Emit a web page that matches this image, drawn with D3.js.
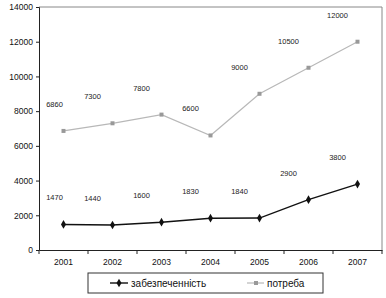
<!DOCTYPE html>
<html>
<head>
<meta charset="utf-8">
<script src="https://cdn.jsdelivr.net/npm/d3@7"></script>
<style>
  body { margin: 0; background: #fff; }
  svg { display: block; font-family: Arial, "Liberation Sans", sans-serif; }
</style>
</head>
<body>
<div id="chart"></div>
<script>
// chart data
var years = ['2001', '2002', '2003', '2004', '2005', '2006', '2007'];
var supply = [1470, 1440, 1600, 1830, 1840, 2900, 3800];   // забезпеченність
var demand = [6860, 7300, 7800, 6600, 9000, 10500, 12000]; // потреба
var yTicks = [0, 2000, 4000, 6000, 8000, 10000, 12000, 14000];
var seriesNames = ['забезпеченність', 'потреба'];

var width = 386, height = 298;
var margin = {top: 7, right: 4, bottom: 48, left: 39};
var plotW = width - margin.left - margin.right;
var plotH = height - margin.top - margin.bottom;

var svg = d3.select('#chart').append('svg')
  .attr('width', width)
  .attr('height', height);

var g = svg.append('g')
  .attr('transform', 'translate(' + margin.left + ',' + margin.top + ')');

var x = d3.scaleBand().domain(years).range([0, plotW]);
var y = d3.scaleLinear().domain([0, 14000]).range([plotH, 0]);

// plot frame (top + right)
g.append('path')
  .attr('d', 'M0,0H' + plotW + 'V' + plotH)
  .attr('fill', 'none')
  .attr('stroke', '#888')
  .attr('stroke-width', 1);

// y axis
var yAxis = g.append('g')
  .call(d3.axisLeft(y).tickValues(yTicks).tickSize(3).tickPadding(3).tickFormat(d3.format('d')));
yAxis.select('.domain').attr('stroke', '#222');
yAxis.selectAll('line').attr('stroke', '#222');
yAxis.selectAll('text').attr('font-size', 8.5).attr('fill', '#111');

// x axis, ticks on category boundaries
var xAxis = g.append('g')
  .attr('transform', 'translate(0,' + plotH + ')')
  .call(d3.axisBottom(x).tickSize(0).tickPadding(9));
xAxis.select('.domain').attr('stroke', '#222');
xAxis.selectAll('text').attr('font-size', 8.5).attr('fill', '#111');
xAxis.selectAll('.bound')
  .data(years.map(function (d) { return x(d); }).concat([plotW]))
  .enter().append('line')
  .attr('x1', function (d) { return d; })
  .attr('x2', function (d) { return d; })
  .attr('y1', 0).attr('y2', 4)
  .attr('stroke', '#222');

var cx = function (d, i) { return x(years[i]) + x.bandwidth() / 2; };
var line = d3.line()
  .x(function (d, i) { return x(years[i]) + x.bandwidth() / 2; })
  .y(function (d) { return y(d); });

// потреба (grey, squares)
g.append('path')
  .datum(demand)
  .attr('d', line)
  .attr('fill', 'none')
  .attr('stroke', '#b8b8b8')
  .attr('stroke-width', 1.2);
g.selectAll('.dm')
  .data(demand)
  .enter().append('rect')
  .attr('x', function (d, i) { return cx(d, i) - 2; })
  .attr('y', function (d) { return y(d) - 2; })
  .attr('width', 4).attr('height', 4)
  .attr('fill', '#999');

// забезпеченність (black, diamonds)
g.append('path')
  .datum(supply)
  .attr('d', line)
  .attr('fill', 'none')
  .attr('stroke', '#111')
  .attr('stroke-width', 1.4);
g.selectAll('.sm')
  .data(supply)
  .enter().append('path')
  .attr('d', d3.symbol().type(d3.symbolDiamond).size(22))
  .attr('transform', function (d, i) { return 'translate(' + cx(d, i) + ',' + y(d) + ')'; })
  .attr('fill', '#111');

// data labels (first one sits closer to its point, as in the original)
[demand, supply].forEach(function (series) {
  g.selectAll(null)
    .data(series)
    .enter().append('text')
    .attr('x', function (d, i) { return cx(d, i) - (i === 0 ? 9 : 20); })
    .attr('y', function (d) { return y(d) - 24; })
    .attr('text-anchor', 'middle')
    .attr('font-size', 7.5)
    .attr('fill', '#222')
    .text(function (d) { return d; });
});

// legend
var legend = svg.append('g').attr('transform', 'translate(88,273)');
legend.append('rect')
  .attr('width', 235).attr('height', 20)
  .attr('fill', '#fff').attr('stroke', '#333');

var li1 = legend.append('g').attr('transform', 'translate(22,10)');
li1.append('line').attr('x1', 0).attr('x2', 18).attr('stroke', '#111').attr('stroke-width', 1.4);
li1.append('path').attr('d', d3.symbol().type(d3.symbolDiamond).size(22))
  .attr('transform', 'translate(9,0)').attr('fill', '#111');
li1.append('text').attr('x', 21).attr('y', 4).attr('font-size', 10).attr('fill', '#111').text(seriesNames[0]);

var li2 = legend.append('g').attr('transform', 'translate(159,10)');
li2.append('line').attr('x1', 0).attr('x2', 17).attr('stroke', '#b8b8b8').attr('stroke-width', 1.2);
li2.append('rect').attr('x', 7).attr('y', -2).attr('width', 4).attr('height', 4).attr('fill', '#999');
li2.append('text').attr('x', 20).attr('y', 4).attr('font-size', 10).attr('fill', '#111').text(seriesNames[1]);
</script>
</body>
</html>
